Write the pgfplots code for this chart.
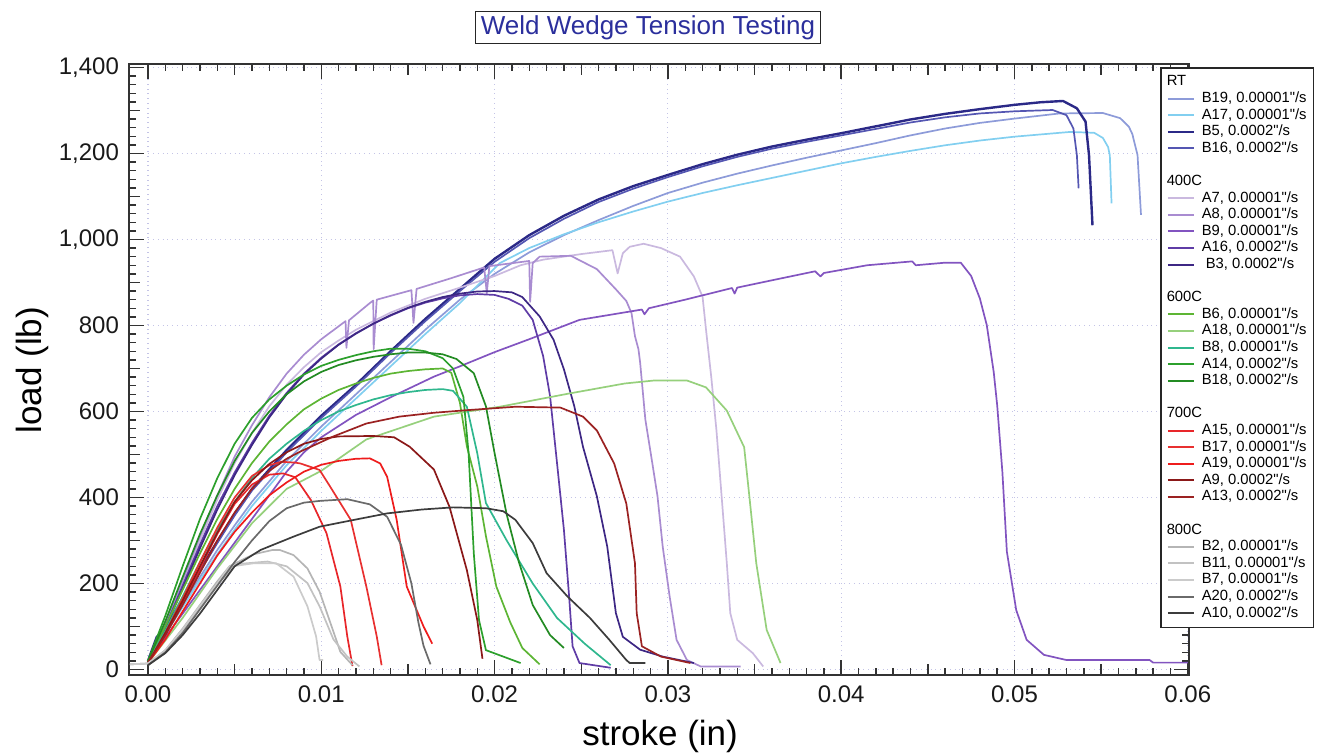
\documentclass[border=0pt]{standalone}
\usepackage{fontspec}
\setmainfont{Liberation Sans}
\newfontfamily\lf{Liberation Sans}
\usepackage{pgfplots}
\pgfplotsset{compat=1.18}
\definecolor{gridc}{HTML}{C4C4E6}
\definecolor{titc}{HTML}{2B2F9C}
\definecolor{cB19}{HTML}{8D9BD9}
\definecolor{cA17}{HTML}{82CFF0}
\definecolor{cB5}{HTML}{2B2987}
\definecolor{cB16}{HTML}{5456B2}
\definecolor{cA7}{HTML}{CAB9DF}
\definecolor{cA8}{HTML}{A98CD1}
\definecolor{cB9}{HTML}{8254C0}
\definecolor{cA16}{HTML}{5F3CA6}
\definecolor{cB3}{HTML}{3D2784}
\definecolor{cB6}{HTML}{5DB534}
\definecolor{cA18}{HTML}{96D07C}
\definecolor{cB8}{HTML}{2FB78E}
\definecolor{cA14}{HTML}{2CA02C}
\definecolor{cB18}{HTML}{238B23}
\definecolor{cA15}{HTML}{E8262A}
\definecolor{cB17}{HTML}{E83030}
\definecolor{cA19}{HTML}{EE1C1C}
\definecolor{cA9}{HTML}{8B1818}
\definecolor{cA13}{HTML}{9B2222}
\definecolor{cB2}{HTML}{B5B5B5}
\definecolor{cB11}{HTML}{C2C2C2}
\definecolor{cB7}{HTML}{CBCBCB}
\definecolor{cA20}{HTML}{6A6A6A}
\definecolor{cA10}{HTML}{3C3C3C}
\pgfplotsset{cs/.style={color=#1, line width=0.85pt, mark=none, line join=round}}
\newcommand{\hdr}[1]{\makebox[0pt][l]{\hspace*{-17.5pt}#1}}
\begin{document}
\begin{tikzpicture}
\path[use as bounding box] (0,0) rectangle (659.5pt,378pt);
\begin{axis}[
  at={(64.5pt,40.5pt)}, anchor=south west, scale only axis,
  width=530pt, height=305.5pt,
  xmin=-0.001096, xmax=0.06007, ymin=-12.8, ymax=1408,
  xtick={0,0.01,0.02,0.03,0.04,0.05,0.06}, ytick={0,200,...,1400},
  minor x tick num=9, minor y tick num=9,
  extra x ticks={0.005,0.015,0.025,0.035,0.045,0.055}, extra x tick labels={},
  extra x tick style={grid=none, major tick length=5.5pt},
  extra y ticks={100,300,500,700,900,1100,1300}, extra y tick labels={},
  extra y tick style={grid=none, major tick length=5.5pt},
  scaled x ticks=false,
  /pgf/number format/assume math mode=true,
  xticklabel style={/pgf/number format/.cd, fixed, fixed zerofill, precision=2, /tikz/.cd, yshift=-2pt},
  yticklabel style={xshift=-1.5pt},
  tick label style={font=\fontsize{12}{14}\selectfont, color=black!90},
  tick align=inside, major tick length=7.5pt, minor tick length=3.3pt,
  tick style={color=black!80, line width=0.7pt},
  grid=major, major grid style={dotted, color=gridc, line width=0.6pt},
  axis line style={color=black!80, line width=1pt},
  title={Weld Wedge Tension Testing},
  title style={at={(axis description cs:0.4896,1.013)}, anchor=south, draw=black!85, line width=0.6pt, text=titc, font=\fontsize{13}{15}\selectfont, inner xsep=2.5pt, inner ysep=2pt},
  xlabel={stroke (in)},
  xlabel style={at={(axis description cs:0.501,-0.0998)}, anchor=center, font=\fontsize{17.5}{20}\selectfont},
  ylabel={load (lb)},
  ylabel style={at={(axis description cs:-0.0915,0.499)}, anchor=center, font=\fontsize{17.5}{20}\selectfont},
  legend cell align=left,
  legend image code/.code={\draw[#1, line width=1pt] (0pt,0pt) -- (13pt,0pt);},
  legend style={at={(axis description cs:0.9726,0.9951)}, anchor=north west, draw=black!85, line width=0.8pt, fill=white,
    font=\lf\fontsize{7.4}{8.3}\selectfont, inner xsep=3pt, inner ysep=3pt, row sep=0pt, column sep=3pt,
    nodes={inner xsep=0.5pt, inner ysep=0.6pt, text height=5.5pt, text depth=1.6pt}},
]
% ---------------- RT
\addlegendimage{empty legend}\addlegendentry{\hdr{RT}}
\addplot[cs=cB19] coordinates {(0,20)(0.001,85)(0.002,150)(0.003,215)(0.004,278)(0.005,335)(0.006,390)(0.008,485)(0.01,565)(0.012,640)(0.014,715)(0.016,790)(0.018,860)(0.02,920)(0.022,970)(0.024,1010)(0.026,1045)(0.028,1078)(0.03,1108)(0.032,1132)(0.034,1153)(0.036,1172)(0.038,1190)(0.04,1207)(0.042,1224)(0.044,1242)(0.046,1258)(0.048,1271)(0.05,1281)(0.0526,1293)(0.0551,1294)(0.0561,1282)(0.0566,1262)(0.0568,1245)(0.0571,1196)(0.0573,1057)};
\addlegendentry{B19, 0.00001"/s}
\addplot[cs=cA17] coordinates {(0,20)(0.001,82)(0.002,145)(0.003,208)(0.004,268)(0.005,325)(0.006,380)(0.008,475)(0.01,555)(0.012,630)(0.014,705)(0.016,780)(0.018,852)(0.0203,945)(0.022,980)(0.024,1012)(0.026,1040)(0.028,1065)(0.03,1088)(0.032,1108)(0.034,1126)(0.036,1143)(0.038,1160)(0.04,1177)(0.042,1192)(0.044,1206)(0.046,1219)(0.048,1230)(0.05,1239)(0.0532,1250)(0.0546,1248)(0.0551,1236)(0.0554,1215)(0.0555,1196)(0.0556,1084)};
\addlegendentry{A17, 0.00001"/s}
\addplot[cs=cB5, line width=1.2pt] coordinates {(0,20)(0.0005,75)(0.001,95)(0.002,165)(0.003,232)(0.004,298)(0.005,362)(0.006,420)(0.008,510)(0.01,590)(0.012,662)(0.014,740)(0.016,815)(0.018,885)(0.02,955)(0.022,1010)(0.024,1055)(0.026,1093)(0.028,1124)(0.03,1150)(0.032,1175)(0.034,1197)(0.036,1216)(0.038,1232)(0.04,1247)(0.042,1263)(0.044,1279)(0.046,1292)(0.048,1303)(0.05,1313)(0.0515,1319)(0.0528,1322)(0.0536,1305)(0.0541,1274)(0.0543,1196)(0.0545,1033)};
\addlegendentry{B5, 0.0002"/s}
\addplot[cs=cB16] coordinates {(0,20)(0.001,90)(0.002,160)(0.003,228)(0.004,294)(0.005,358)(0.006,416)(0.008,505)(0.01,585)(0.012,658)(0.014,736)(0.016,810)(0.018,880)(0.02,948)(0.022,1003)(0.024,1048)(0.026,1087)(0.028,1118)(0.03,1145)(0.032,1170)(0.034,1192)(0.036,1211)(0.038,1227)(0.04,1242)(0.042,1257)(0.044,1272)(0.046,1284)(0.048,1293)(0.05,1298)(0.0522,1301)(0.053,1289)(0.0534,1258)(0.0536,1196)(0.0537,1119)};
\addlegendentry{B16, 0.0002"/s}
\addlegendimage{empty legend}\addlegendentry{}
% ---------------- 400C
\addlegendimage{empty legend}\addlegendentry{\hdr{400C}}
\addplot[cs=cA7] coordinates {(0,20)(0.001,105)(0.002,200)(0.003,300)(0.004,395)(0.005,480)(0.006,550)(0.007,612)(0.008,662)(0.009,703)(0.01,738)(0.011,765)(0.012,790)(0.014,830)(0.016,862)(0.018,888)(0.02,915)(0.0215,940)(0.0228,953)(0.025,966)(0.0268,975)(0.0271,921)(0.0274,968)(0.0278,983)(0.0286,990)(0.0296,980)(0.0307,960)(0.0315,914)(0.032,867)(0.0322,790)(0.0325,681)(0.0328,557)(0.0331,403)(0.0334,247)(0.0336,131)(0.034,69)(0.0349,38)(0.0355,7)};
\addlegendentry{A7, 0.00001"/s}
\addplot[cs=cA8] coordinates {(0,20)(0.001,110)(0.002,208)(0.003,310)(0.004,405)(0.005,495)(0.006,568)(0.007,633)(0.008,688)(0.009,732)(0.01,768)(0.0114,810)(0.01145,748)(0.0116,812)(0.0128,852)(0.013,858)(0.01302,745)(0.0132,860)(0.0152,882)(0.01532,806)(0.0155,885)(0.0175,910)(0.0194,935)(0.01955,875)(0.0197,938)(0.022,950)(0.02205,855)(0.0222,945)(0.0226,960)(0.0244,962)(0.0259,931)(0.027,884)(0.0276,857)(0.0279,829)(0.0281,775)(0.0283,745)(0.0284,713)(0.0287,581)(0.0291,480)(0.0294,403)(0.0297,286)(0.0301,170)(0.0305,69)(0.0311,22)(0.0319,7)(0.0342,7)};
\addlegendentry{A8, 0.00001"/s}
\addplot[cs=cB9] coordinates {(0,20)(0.001,75)(0.002,130)(0.003,185)(0.004,240)(0.005,295)(0.006,350)(0.007,405)(0.008,460)(0.009,505)(0.01,540)(0.012,592)(0.014,633)(0.0165,681)(0.018,705)(0.02,738)(0.022,768)(0.0249,813)(0.0261,821)(0.0285,837)(0.02865,826)(0.0289,840)(0.031,860)(0.0337,887)(0.03385,874)(0.034,888)(0.036,905)(0.0385,926)(0.0388,914)(0.039,922)(0.0415,940)(0.0441,949)(0.0443,940)(0.046,946)(0.0469,946)(0.0475,915)(0.048,863)(0.0484,801)(0.0488,692)(0.049,615)(0.0493,460)(0.04956,274)(0.0501,138)(0.0507,69)(0.0517,34)(0.053,22)(0.0578,22)(0.058,16)(0.06,16)};
\addlegendentry{B9, 0.00001"/s}
\addplot[cs=cA16] coordinates {(0,20)(0.001,100)(0.002,195)(0.003,290)(0.004,380)(0.005,458)(0.006,527)(0.007,590)(0.008,643)(0.009,688)(0.01,725)(0.011,756)(0.012,782)(0.013,804)(0.014,823)(0.015,840)(0.016,853)(0.017,863)(0.018,870)(0.019,873)(0.02,871)(0.0208,862)(0.0216,846)(0.0222,813)(0.0228,729)(0.0232,636)(0.0236,481)(0.024,325)(0.0243,170)(0.0245,54)(0.0249,15)(0.0267,4)};
\addlegendentry{A16, 0.0002"/s}
\addplot[cs=cB3] coordinates {(0,20)(0.001,96)(0.002,188)(0.003,282)(0.004,372)(0.005,452)(0.006,522)(0.007,586)(0.008,640)(0.009,686)(0.01,723)(0.011,755)(0.012,781)(0.013,804)(0.014,824)(0.015,841)(0.016,855)(0.017,866)(0.018,874)(0.019,879)(0.02,880)(0.021,877)(0.0216,866)(0.0226,821)(0.0234,767)(0.024,698)(0.0246,612)(0.0251,518)(0.0259,403)(0.0265,286)(0.027,131)(0.0274,76)(0.0284,46)(0.0297,30)(0.0315,15)};
\addlegendentry{\ B3, 0.0002"/s}
\addlegendimage{empty legend}\addlegendentry{}
% ---------------- 600C
\addlegendimage{empty legend}\addlegendentry{\hdr{600C}}
\addplot[cs=cB6] coordinates {(0,20)(0.001,100)(0.002,185)(0.003,270)(0.004,350)(0.005,420)(0.006,480)(0.007,530)(0.008,570)(0.009,605)(0.01,630)(0.011,650)(0.012,665)(0.013,678)(0.014,688)(0.015,694)(0.016,698)(0.017,700)(0.0175,690)(0.018,620)(0.0184,519)(0.019,426)(0.0195,310)(0.0201,193)(0.0209,110)(0.0216,50)(0.0226,12)};
\addlegendentry{B6, 0.00001"/s}
\addplot[cs=cA18] coordinates {(0,15)(0.002,120)(0.004,235)(0.006,340)(0.008,420)(0.01,462)(0.0126,535)(0.0165,588)(0.0203,611)(0.0242,641)(0.0275,665)(0.0292,672)(0.0311,672)(0.0322,656)(0.0334,602)(0.0344,517)(0.0347,403)(0.0351,247)(0.0357,92)(0.0365,15)};
\addlegendentry{A18, 0.00001"/s}
\addplot[cs=cB8] coordinates {(0,20)(0.001,90)(0.002,170)(0.003,250)(0.004,325)(0.005,390)(0.006,445)(0.007,490)(0.008,525)(0.009,555)(0.01,580)(0.011,600)(0.012,615)(0.013,628)(0.014,638)(0.015,645)(0.016,650)(0.017,652)(0.0176,648)(0.0184,611)(0.019,503)(0.0195,387)(0.0207,300)(0.0222,200)(0.0236,120)(0.0252,60)(0.0267,10)};
\addlegendentry{B8, 0.00001"/s}
\addplot[cs=cA14] coordinates {(0,20)(0.001,125)(0.002,240)(0.003,350)(0.004,445)(0.005,525)(0.006,585)(0.007,628)(0.008,660)(0.009,686)(0.01,706)(0.011,720)(0.012,731)(0.013,740)(0.014,746)(0.015,746)(0.016,740)(0.017,724)(0.0176,700)(0.0182,634)(0.0185,503)(0.0188,270)(0.0191,115)(0.0195,45)(0.0215,15)};
\addlegendentry{A14, 0.0002"/s}
\addplot[cs=cB18] coordinates {(0,20)(0.001,112)(0.002,215)(0.003,315)(0.004,405)(0.005,485)(0.006,550)(0.007,600)(0.008,640)(0.009,670)(0.01,692)(0.011,708)(0.012,719)(0.013,727)(0.014,733)(0.015,737)(0.016,737)(0.017,733)(0.0178,722)(0.0188,689)(0.0195,612)(0.02,503)(0.0207,360)(0.0214,250)(0.0222,150)(0.0232,80)(0.024,50)};
\addlegendentry{B18, 0.0002"/s}
\addlegendimage{empty legend}\addlegendentry{}
% ---------------- 700C
\addlegendimage{empty legend}\addlegendentry{\hdr{700C}}
\addplot[cs=cA15] coordinates {(0,15)(0.001,80)(0.002,155)(0.003,235)(0.004,315)(0.005,385)(0.006,430)(0.007,453)(0.0078,456)(0.0085,447)(0.0094,394)(0.0103,317)(0.0111,193)(0.0115,77)(0.0118,8)};
\addlegendentry{A15, 0.00001"/s}
\addplot[cs=cB17] coordinates {(0,15)(0.001,85)(0.002,165)(0.003,250)(0.004,330)(0.005,400)(0.006,450)(0.007,475)(0.0077,483)(0.0085,481)(0.0088,479)(0.0099,464)(0.0105,426)(0.0117,348)(0.0126,193)(0.0132,77)(0.01348,10)};
\addlegendentry{B17, 0.00001"/s}
\addplot[cs=cA19] coordinates {(0,15)(0.001,70)(0.002,135)(0.003,200)(0.004,265)(0.005,320)(0.006,365)(0.007,405)(0.008,435)(0.009,460)(0.01,476)(0.011,485)(0.012,490)(0.0128,491)(0.0134,479)(0.0138,448)(0.01435,348)(0.01493,193)(0.0159,100)(0.0164,60)};
\addlegendentry{A19, 0.00001"/s}
\addplot[cs=cA9] coordinates {(0,15)(0.001,85)(0.002,160)(0.003,240)(0.004,318)(0.005,390)(0.006,440)(0.007,478)(0.008,505)(0.009,525)(0.01,536)(0.011,542)(0.013,543)(0.0142,540)(0.0151,518)(0.0165,465)(0.0174,378)(0.0184,231)(0.019,115)(0.0193,25)};
\addlegendentry{A9, 0.0002"/s}
\addplot[cs=cA13] coordinates {(0,15)(0.001,80)(0.002,150)(0.003,225)(0.004,300)(0.005,365)(0.006,420)(0.007,462)(0.008,490)(0.0088,507)(0.0107,542)(0.0126,572)(0.0145,588)(0.0165,597)(0.0184,603)(0.0212,611)(0.0238,609)(0.0251,588)(0.0259,556)(0.0269,479)(0.0276,386)(0.0281,247)(0.0282,131)(0.0285,54)(0.0296,30)(0.0313,15)};
\addlegendentry{A13, 0.0002"/s}
\addlegendimage{empty legend}\addlegendentry{}
% ---------------- 800C
\addlegendimage{empty legend}\addlegendentry{\hdr{800C}}
\addplot[cs=cB2] coordinates {(-0.00105,12)(0,14)(0.001,45)(0.002,95)(0.003,150)(0.004,205)(0.0047,240)(0.0061,268)(0.0072,278)(0.0076,278)(0.0084,266)(0.0092,235)(0.0099,181)(0.0107,88)(0.0111,41)(0.0118,10)};
\addlegendentry{B2, 0.00001"/s}
\addplot[cs=cB11] coordinates {(-0.00105,12)(0,14)(0.001,42)(0.002,90)(0.003,145)(0.004,198)(0.0051,245)(0.0069,251)(0.008,240)(0.0092,201)(0.0099,147)(0.0107,70)(0.0115,30)(0.0122,7)};
\addlegendentry{B11, 0.00001"/s}
\addplot[cs=cB7] coordinates {(-0.00105,12)(0,14)(0.001,44)(0.002,93)(0.003,148)(0.004,200)(0.0047,239)(0.0061,247)(0.0074,247)(0.0084,216)(0.0092,147)(0.0097,77)(0.0099,22)(0.0101,22)};
\addlegendentry{B7, 0.00001"/s}
\addplot[cs=cA20] coordinates {(0,10)(0.001,40)(0.002,85)(0.003,140)(0.004,195)(0.005,250)(0.006,300)(0.007,345)(0.008,375)(0.009,388)(0.0099,392)(0.0115,396)(0.0128,384)(0.0138,355)(0.0146,290)(0.0152,200)(0.0156,110)(0.0159,55)(0.0163,12)};
\addlegendentry{A20, 0.0002"/s}
\addplot[cs=cA10] coordinates {(0,10)(0.001,38)(0.002,80)(0.003,130)(0.004,185)(0.005,240)(0.0065,278)(0.0084,309)(0.0099,332)(0.0119,348)(0.0138,363)(0.0158,372)(0.0176,377)(0.0195,375)(0.0205,368)(0.0212,348)(0.0222,294)(0.023,224)(0.0242,170)(0.0255,120)(0.0266,70)(0.0276,22)(0.0278,15)(0.0287,15)};
\addlegendentry{A10, 0.0002"/s}
\end{axis}
\end{tikzpicture}
\end{document}
